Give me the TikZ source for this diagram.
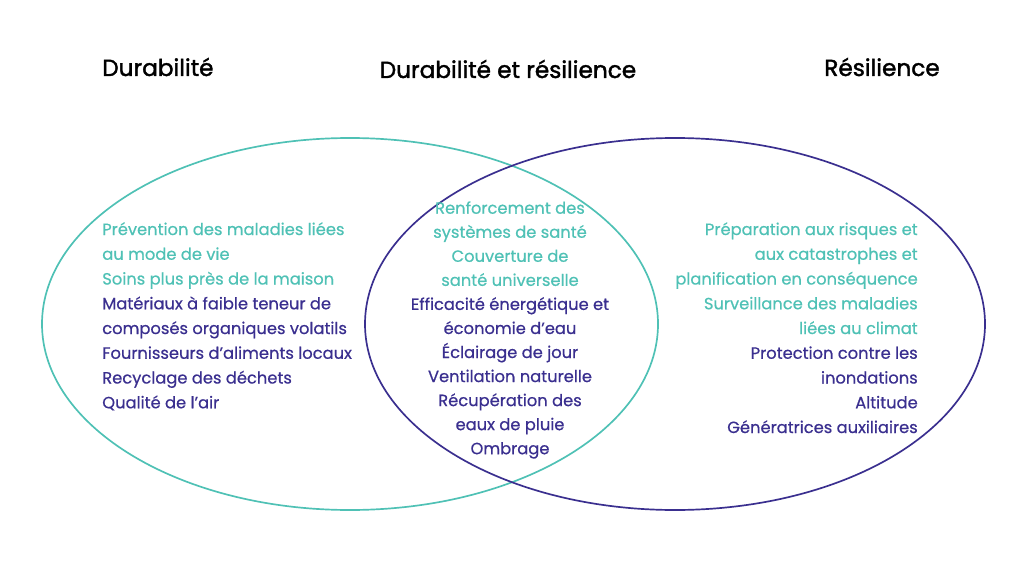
\documentclass[tikz,border=0pt]{standalone}
\usepackage{fontspec}
\setmainfont{Poppins}[FakeBold=0.6]
\newfontfamily\headfont{Poppins}[FakeBold=1.6]
\definecolor{teal}{HTML}{4FC1B5}
\definecolor{navy}{HTML}{3A2F8F}
\tikzset{
    heading/.style={font=\headfont\fontsize{16.5}{20}\selectfont, text=black, inner sep=0pt},
    block/.style={font=\fontsize{11.6}{17.1}\selectfont, inner sep=0pt},
    sideblock/.style={font=\fontsize{11.6}{17.6}\selectfont, inner sep=0pt}
}
\begin{document}
\begin{tikzpicture}[x=0.025cm,y=-0.025cm]
        \useasboundingbox (0,0) rectangle (1024,577);
        \draw [teal, line width=1.2pt] (350,324) ellipse [x radius=308, y radius=186];
        \draw [navy, line width=1.2pt] (675,324) ellipse [x radius=310, y radius=186];
        % titres
        \node[heading, anchor=west] (durab) at (102,67) {Durabilité};
        \node[heading] (both) at (508,69) {Durabilité et résilience};
        \node[heading, anchor=east] (resil) at (940,67) {Résilience};
        % blocs de texte
        \node[sideblock, anchor=north west, align=left] (left) at (102,222) {%
            \color{teal}Prévention des maladies liées\\
            \color{teal}au mode de vie\\
            \color{teal}Soins plus près de la maison\\
            \color{navy}Matériaux à faible teneur de\\
            \color{navy}composés organiques volatils\\
            \color{navy}Fournisseurs d’aliments locaux\\
            \color{navy}Recyclage des déchets\\
            \color{navy}Qualité de l’air};
        \node[block, anchor=north, align=center] (mid) at (510,201) {%
            \color{teal}Renforcement des\\
            \color{teal}systèmes de santé\\
            \color{teal}Couverture de\\
            \color{teal}santé universelle\\
            \color{navy}Efficacité énergétique et\\
            \color{navy}économie d’eau\\
            \color{navy}Éclairage de jour\\
            \color{navy}Ventilation naturelle\\
            \color{navy}Récupération des\\
            \color{navy}eaux de pluie\\
            \color{navy}Ombrage};
        \node[sideblock, anchor=north east, align=right] (right) at (918,222) {%
            \color{teal}Préparation aux risques et\\
            \color{teal}aux catastrophes et\\
            \color{teal}planification en conséquence\\
            \color{teal}Surveillance des maladies\\
            \color{teal}liées au climat\\
            \color{navy}Protection contre les\\
            \color{navy}inondations\\
            \color{navy}Altitude\\
            \color{navy}Génératrices auxiliaires};
\end{tikzpicture}
\end{document}
